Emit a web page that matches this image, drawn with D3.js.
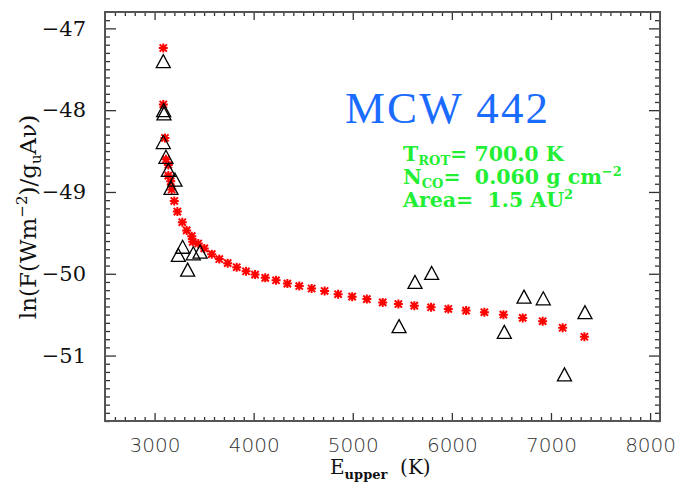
<!DOCTYPE html>
<html>
<head>
<meta charset="utf-8">
<script src="https://cdn.jsdelivr.net/npm/d3@7"></script>
<style>
  body { margin: 0; background: #fff; }
  svg { display: block; }
  text { white-space: pre; }
</style>
</head>
<body>
<div class="chart"></div>
<script>
var width = 694;
var height = 491;

// model points (red asterisks)
var modelE = [3088, 3088, 3105, 3115, 3139, 3139, 3163, 3173, 3199, 3230, 3280, 3324, 3375, 3385, 3441, 3502,
  3577, 3653, 3738, 3829, 3923, 4014, 4117, 4226, 4340, 4460, 4585, 4716, 4852, 4994, 5142, 5302,
  5460, 5621, 5790, 5964, 6143, 6328, 6520, 6715, 6916, 7118, 7337];
var modelY = [-47.24, -47.93, -48.34, -48.60, -48.67, -48.80, -48.87, -48.97, -49.11, -49.24, -49.37, -49.47, -49.54, -49.61, -49.63, -49.69,
  -49.76, -49.82, -49.87, -49.92, -49.97, -50.01, -50.05, -50.08, -50.12, -50.15, -50.18, -50.21, -50.25, -50.28, -50.31, -50.35,
  -50.37, -50.39, -50.41, -50.43, -50.45, -50.47, -50.50, -50.54, -50.58, -50.66, -50.77];

// observed points (triangles)
var obsE = [3088, 3092, 3095, 3088, 3115, 3139, 3206, 3166, 3283, 3240, 3391, 3459, 3334,
  5467, 5628, 5796, 6529, 6728, 6922, 7136, 7343];
var obsY = [-47.40, -48.00, -48.04, -48.39, -48.57, -48.73, -48.85, -48.95, -49.67, -49.77, -49.75, -49.73, -49.95,
  -50.64, -50.10, -49.99, -50.71, -50.28, -50.30, -51.23, -50.47];

var xMajor = [3000, 4000, 5000, 6000, 7000, 8000];
var yMajor = [-51, -50, -49, -48, -47];

var svg = d3.select('.chart')
  .append('svg')
  .attr('width', width)
  .attr('height', height);

var pLeft = 105, pRight = 660, pTop = 12, pBottom = 421;

var x = d3.scaleLinear().domain([2500, 8100]).range([pLeft, pRight]);
var y = d3.scaleLinear().domain([-51.8, -46.8]).range([pBottom, pTop]);

var xMinor = d3.range(2600, 8100, 100).filter(function(v){ return v % 1000 !== 0; });
var yMinor = d3.range(-518, -468, 1).map(function(v){ return v / 10; })
  .filter(function(v){ return Math.abs(v - Math.round(v)) > 0.01; });

var tickCol = '#333';

function styleAxis(g){
  g.select('.domain').remove();
  g.selectAll('.tick line').attr('stroke', tickCol).attr('stroke-width', 1.3);
}

// bottom
svg.append('g').attr('transform', 'translate(0,' + pBottom + ')')
  .call(d3.axisBottom(x).tickValues(xMajor).tickSize(-8).tickPadding(17).tickFormat(d3.format('d')))
  .call(styleAxis)
  .selectAll('text')
  .attr('font-family', 'DejaVu Sans').attr('font-size', '20px').attr('font-weight', 300).attr('fill', '#333');
svg.append('g').attr('transform', 'translate(0,' + pBottom + ')')
  .call(d3.axisBottom(x).tickValues(xMinor).tickSize(-4).tickFormat(''))
  .call(styleAxis);
// top
svg.append('g').attr('transform', 'translate(0,' + pTop + ')')
  .call(d3.axisTop(x).tickValues(xMajor).tickSize(-8).tickFormat(''))
  .call(styleAxis);
svg.append('g').attr('transform', 'translate(0,' + pTop + ')')
  .call(d3.axisTop(x).tickValues(xMinor).tickSize(-4).tickFormat(''))
  .call(styleAxis);
// left
svg.append('g').attr('transform', 'translate(' + pLeft + ',0)')
  .call(d3.axisLeft(y).tickValues(yMajor).tickSize(-11).tickPadding(19)
    .tickFormat(function(d){ return '\u2212' + Math.abs(d); }))
  .call(styleAxis)
  .selectAll('text')
  .attr('font-family', 'DejaVu Serif').attr('font-size', '21px').attr('fill', '#111');
svg.append('g').attr('transform', 'translate(' + pLeft + ',0)')
  .call(d3.axisLeft(y).tickValues(yMinor).tickSize(-5).tickFormat(''))
  .call(styleAxis);
// right
svg.append('g').attr('transform', 'translate(' + pRight + ',0)')
  .call(d3.axisRight(y).tickValues(yMajor).tickSize(-11).tickFormat(''))
  .call(styleAxis);
svg.append('g').attr('transform', 'translate(' + pRight + ',0)')
  .call(d3.axisRight(y).tickValues(yMinor).tickSize(-5).tickFormat(''))
  .call(styleAxis);

// frame
svg.append('rect')
  .attr('x', pLeft).attr('y', pTop)
  .attr('width', pRight - pLeft).attr('height', pBottom - pTop)
  .attr('fill', 'none').attr('stroke', '#555').attr('stroke-width', 2);

var model = modelE.map(function(e, i){ return {e: e, v: modelY[i]}; });
var obs = obsE.map(function(e, i){ return {e: e, v: obsY[i]}; });

// model asterisks
var r = 4.5;
var starPath = 'M' + (-r) + ',0L' + r + ',0M0,' + (-r) + 'L0,' + r +
  'M' + (-r*0.8) + ',' + (-r*0.8) + 'L' + (r*0.8) + ',' + (r*0.8) +
  'M' + (-r*0.8) + ',' + (r*0.8) + 'L' + (r*0.8) + ',' + (-r*0.8);

svg.selectAll('.model')
  .data(model)
  .enter().append('path')
  .attr('class', 'model')
  .attr('d', starPath)
  .attr('transform', function(d){ return 'translate(' + x(d.e) + ',' + y(d.v) + ')'; })
  .attr('fill', 'none')
  .attr('stroke', '#ff0000')
  .attr('stroke-width', 2);

// observed triangles
var triPath = 'M0,-6.5L7,6.5L-7,6.5Z';
svg.selectAll('.obs')
  .data(obs)
  .enter().append('path')
  .attr('class', 'obs')
  .attr('d', triPath)
  .attr('transform', function(d){ return 'translate(' + x(d.e) + ',' + y(d.v) + ')'; })
  .attr('fill', 'none')
  .attr('stroke', '#000')
  .attr('stroke-width', 1.3);

// title
svg.append('text')
  .attr('x', 345).attr('y', 123)
  .attr('font-family', 'Liberation Serif')
  .attr('font-size', '45px')
  .attr('fill', '#1a6cff')
  .attr('textLength', 203)
  .attr('lengthAdjust', 'spacing')
  .text('MCW 442');

// green annotation
var green = '#22ee33';
var ann = svg.append('g')
  .attr('font-family', 'DejaVu Serif')
  .attr('font-weight', 'bold')
  .attr('font-size', '20.5px')
  .attr('fill', green);

var t1 = ann.append('text').attr('x', 403).attr('y', 161);
t1.append('tspan').text('T');
t1.append('tspan').attr('font-size', '13px').attr('dy', 4).text('ROT');
t1.append('tspan').attr('dy', -4).text('= 700.0 K');

var t2 = ann.append('text').attr('x', 403).attr('y', 184);
t2.append('tspan').text('N');
t2.append('tspan').attr('font-size', '13px').attr('dy', 4).text('CO');
t2.append('tspan').attr('dy', -4).text('=  0.060 g cm');
t2.append('tspan').attr('font-size', '13px').attr('dy', -8).text('\u22122');

var t3 = ann.append('text').attr('x', 403).attr('y', 207);
t3.append('tspan').text('Area=  1.5 AU');
t3.append('tspan').attr('font-size', '13px').attr('dy', -8).text('2');

// x label
var xl = svg.append('text')
  .attr('x', 330).attr('y', 474)
  .attr('font-family', 'DejaVu Serif')
  .attr('font-size', '20px')
  .attr('fill', '#111');
xl.append('tspan').text('E');
xl.append('tspan').attr('font-size', '13px').attr('font-weight', 'bold').attr('dy', 5).text('upper');
xl.append('tspan').attr('dy', -5).text('  (K)');

// y label
var yl = svg.append('text')
  .attr('transform', 'translate(36,' + 217 + ') rotate(-90)')
  .attr('text-anchor', 'middle')
  .attr('font-family', 'DejaVu Serif')
  .attr('font-size', '23px')
  .attr('fill', '#111');
yl.append('tspan').text('ln(F(Wm');
yl.append('tspan').attr('font-size', '15px').attr('dy', -9).text('\u22122');
yl.append('tspan').attr('dy', 9).text(')/g');
yl.append('tspan').attr('font-size', '15px').attr('dy', 5).text('u');
yl.append('tspan').attr('dy', -5).text('A\u03bd)');
</script>
</body>
</html>
